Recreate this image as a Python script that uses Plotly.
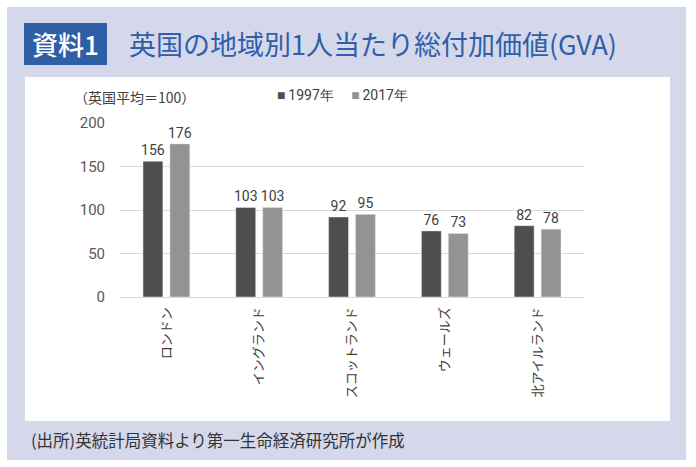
import plotly.graph_objects as go

# データ（英国平均＝100）
regions = ["ロンドン", "イングランド", "スコットランド", "ウェールズ", "北アイルランド"]
gva_1997 = [156, 103, 92, 76, 82]
gva_2017 = [176, 103, 95, 73, 78]
y_ticks = [0, 50, 100, 150, 200]
series_names = ["1997年", "2017年"]
colors = ["#4f4d4e", "#939393"]

W, H = 696, 467
L, R, T, B = 120, 584, 123, 297  # plot area in pixels


def px(x):
    return (x - L) / (R - L)


def py(y):
    return (B - y) / (B - T)


num_font = "Liberation Sans Narrow, Roboto, sans-serif"
jp_font = "Noto Sans CJK JP, sans-serif"

fig = go.Figure()
for name, vals, col in zip(series_names, [gva_1997, gva_2017], colors):
    fig.add_trace(go.Bar(x=regions, y=vals, name=name, marker_color=col,
                         text=vals, textposition="outside", constraintext="none",
                         textfont=dict(size=14, color="#404040", family=num_font),
                         cliponaxis=False))

shapes = [
    # 外枠（薄紫）
    dict(type="rect", xref="paper", yref="paper", layer="below",
         x0=px(7), x1=px(686), y0=py(460), y1=py(7),
         fillcolor="#d5d8eb", line_width=0),
    # 白いパネル
    dict(type="rect", xref="paper", yref="paper", layer="below",
         x0=px(25), x1=px(670), y0=py(421), y1=py(77),
         fillcolor="white", line_width=0),
    # 資料1 の箱
    dict(type="rect", xref="paper", yref="paper", layer="below",
         x0=px(24), x1=px(107), y0=py(65), y1=py(23),
         fillcolor="#2e5ea6", line_width=0),
]

# 凡例（■ + 系列名）
legend_text = ("&nbsp;" * 5).join(
    f"<span style='color:{c}'>■</span>&#8201;{n}" for n, c in zip(series_names, colors))

annotations = [
    dict(text="資料1", x=px(65), y=py(44), xref="paper", yref="paper",
         showarrow=False, xanchor="center", yanchor="middle",
         font=dict(size=26, color="white", family=jp_font, weight=500)),
    dict(text="英国の地域別1人当たり総付加価値(GVA)", x=px(127), y=py(44),
         xref="paper", yref="paper", showarrow=False,
         xanchor="left", yanchor="middle",
         font=dict(size=27, color="#2f5fa8", family=jp_font)),
    dict(text="（英国平均＝100）", x=px(72), y=py(97), xref="paper", yref="paper",
         showarrow=False, xanchor="left", yanchor="middle",
         font=dict(size=14, color="#404040", family=jp_font)),
    dict(text=legend_text, x=px(275), y=py(95), xref="paper", yref="paper",
         showarrow=False, xanchor="left", yanchor="middle",
         font=dict(size=14, color="#404040", family=num_font)),
    dict(text="(出所)英統計局資料より第一生命経済研究所が作成", x=px(29), y=py(440),
         xref="paper", yref="paper", showarrow=False,
         xanchor="left", yanchor="middle",
         font=dict(size=16.5, color="#333333", family=jp_font)),
]

fig.update_layout(
    width=W, height=H,
    margin=dict(l=L, r=W - R, t=T, b=H - B, pad=0),
    paper_bgcolor="white",
    plot_bgcolor="rgba(0,0,0,0)",
    barmode="group", bargap=0.42, bargroupgap=0.26,
    shapes=shapes, annotations=annotations,
    showlegend=False,
    font=dict(family=num_font, color="#595959"),
)
fig.update_yaxes(range=[0, 200], tickvals=y_ticks, showgrid=True,
                 gridcolor="#d9d9d9", gridwidth=1, zeroline=False,
                 showline=False, ticks="", ticklabelstandoff=14,
                 tickfont=dict(size=15, color="#595959", family=num_font))
fig.update_xaxes(showline=True, linecolor="#d9d9d9", linewidth=1,
                 tickangle=-90, ticks="", ticklabelstandoff=4,
                 tickfont=dict(size=13, color="#404040", family=jp_font))

fig.write_html("out.html", config={"displayModeBar": False},
               post_script="document.body.style.margin='0';")
